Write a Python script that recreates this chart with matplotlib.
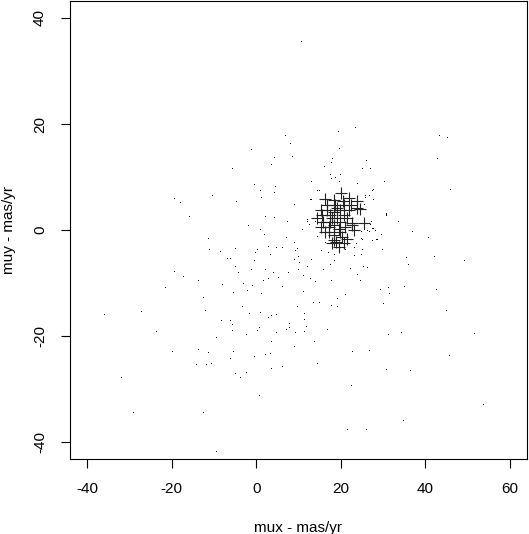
import matplotlib
matplotlib.use("Agg")
import matplotlib.pyplot as plt

plt.rcParams['font.family'] = ['Liberation Sans', 'DejaVu Sans']
plt.rcParams['axes.unicode_minus'] = False

# field stars: proper motions (mas/yr)
field_x = [6.7, 7.9, -1.2, 4.1, 8.4, 3.4, -5.8, -0.4, 4.4, 1.0, 4.1, -10.4, 1.2, -19.4, -4.7, -18.0, 8.9, -15.8,
           2.0, 4.1, 7.2, -2.0, 1.0,
           10.5, 23.4, 19.3, 43.1, 45.0, 19.6, 42.8, 17.9, 26.0, 17.7, 16.0, 25.0, 26.9, 17.4, 19.8, 18.6, 17.7,
           12.9, 19.6, 30.2, 23.8, 45.9, 14.3, 14.8, 27.6, 25.7, 26.7, 12.9, 27.6, 30.7, 30.7, 33.6, 12.0, 13.9,
           10.8, 27.2, 26.9, 25.4, 27.6,
           -11.5, 1.8, 7.0, -11.1, -8.5, -4.9, 0.1, 2.7, 4.8, 6.0, 8.9, 9.6, 9.1, -0.2, 3.2, 9.8, -7.0, -6.1, 8.9,
           -0.4, 10.1, -5.1, 2.2, 9.8, -19.4, -4.4, -1.3, 3.9, 7.5, -17.2, 2.9, 5.1, -13.7, 1.5, -8.0, -3.0, -0.9,
           6.2, -21.6, -2.1, -5.4, 1.2, -12.5, -3.3, 9.6, -27.3, -12.0, -36.0, -1.6, 1.0, 2.9, 3.4, 4.6, -8.2,
           -6.1, -5.6, 7.7, 7.7, 7.0, -5.6, 0.6, 0.1, -23.7, 9.1, 4.8, -2.5, -9.4, 3.4, 8.9, -13.7, -19.9, -11.3,
           -5.4, 3.2, 2.0, -0.6, -6.3, -14.2, -11.8, -10.6, 3.4, 6.0, -5.1, -2.3, -3.8, -32.0, 0.6, -29.1, -12.5,
           -9.6,
           36.9, 40.7, 26.2, 28.1, 27.4, 28.3, 24.8, 14.3, 23.6, 25.0, 15.3, 16.9, 18.3, 16.2, 21.1, 23.0, 25.0,
           23.0, 24.7, 29.7, 35.4, 42.1, 49.2, 35.9, 12.9, 18.3, 17.4, 12.1, 15.7, 22.1, 25.2, 26.2, 11.0, 12.7,
           13.8, 17.7, 23.8, 24.5, 11.0, 29.3, 31.2, 31.4, 35.0, 42.4, 21.0, 19.1, 13.4, 14.8, 17.7, 19.1, 30.0,
           44.9, 11.3, 11.3, 11.7, 11.4, 16.7, 31.2, 34.3, 51.4, 13.6, 22.7, 26.7, 45.6, 14.3, 30.7, 36.4, 22.4,
           53.5, 34.7, 21.4, 25.9,
           14.4, 27.4, 12.8, 25.8, 25.4, 30.6, 12.0, 12.4, 27.4, 26.6, 14.4, 24.7, 28.6, 29.4]
field_y = [17.8, 16.2, 15.1, 13.6, 13.8, 12.3, 11.5, 8.5, 8.1, 7.3, 7.0, 6.4, 6.0, 5.8, 5.4, 5.1, 4.7, 2.4,
           2.4, 2.2, 1.6, 0.7, 0.1,
           35.4, 19.3, 18.5, 17.8, 17.4, 15.3, 13.4, 13.4, 13.0, 12.6, 11.9, 11.5, 11.5, 10.4, 10.4, 9.8, 9.6,
           9.0, 9.0, 9.0, 8.7, 7.5, 7.3, 7.3, 7.5, 6.4, 6.4, 5.6, 5.6, 3.0, 2.6, 1.5, 1.6, 1.6,
           0.1, 1.6, 0.9, 0.1, 0.3,
           -1.6, -1.0, -1.4, -3.8, -4.2, -3.5, -3.8, -3.1, -3.3, -3.3, -2.5, -3.5, -4.0, -4.4, -4.6, -5.0, -5.4,
           -5.4, -5.7, -5.9, -6.1, -6.9, -7.5, -7.5, -7.8, -8.0, -7.6, -8.0, -8.0, -8.8, -9.2, -9.0, -9.5, -9.5,
           -10.3, -10.1, -10.5, -10.7, -10.9, -11.4, -11.8, -12.0, -12.8, -14.5, -14.5, -15.4, -15.2, -16.0,
           -15.8, -15.6, -16.5, -16.2, -16.0, -17.1, -17.1, -17.9, -17.7, -18.4, -18.8, -19.0, -18.4, -19.0,
           -19.2, -19.4, -19.4, -19.8, -20.3, -21.1, -22.0, -22.6, -23.0, -23.2, -23.0, -23.4, -23.6, -23.9,
           -24.3, -25.5, -25.5, -25.3, -26.2, -25.8, -27.2, -27.0, -27.9, -27.9, -31.3, -34.4, -34.4, -41.8,
           -0.4, -1.4, -0.2, -0.1, -2.0, -1.8, -0.4, -1.2, -2.7, -1.8, -4.0, -4.4, -4.6, -2.5, -3.8, -3.3, -3.8,
           -4.8, -4.6, -3.8, -5.2, -5.0, -5.9, -6.5, -5.7, -5.9, -6.5, -6.9, -7.5, -7.3, -6.9, -7.1, -8.6, -9.2,
           -9.7, -9.5, -8.4, -9.5, -11.6, -11.2, -10.9, -12.0, -10.7, -11.2, -12.2, -12.9, -13.7, -13.7, -14.3,
           -14.5, -13.9, -15.2, -15.8, -16.9, -18.3, -19.2, -18.8, -19.8, -19.4, -19.6, -21.1, -23.0, -22.8,
           -23.8, -25.3, -26.4, -26.6, -29.4, -32.9, -35.9, -37.6, -37.6,
           7.4, 7.4, 5.7, 6.0, 4.7, 2.8, 1.9, 0.9, 0.3, -0.3, -1.3, -1.6, -1.9, -0.9]

# cluster members
memb_x = [16.3, 20.1, 21.9, 23.9, 24.5, 18.3, 20.7, 18.7, 22.3, 15.2, 16.7, 18.3, 19.9, 20.7, 19.1, 14.4,
          15.9, 17.5, 15.2, 17.1, 18.3, 21.5, 22.7, 25.4, 23.1, 18.3, 20.3, 18.3, 20.7, 19.5, 17.9, 19.5,
          16.3, 17.5, 19.9, 19.1, 21.1, 17.9, 15.6, 21.9, 19.9, 17.1, 21.5, 23.9, 22.7, 16.8, 20.5, 18.9]
memb_y = [5.9, 7.0, 6.0, 5.5, 4.0, 5.7, 4.7, 4.7, 4.7, 3.8, 3.8, 3.5, 3.8, 2.8, 2.2, 2.2,
          1.6, 1.6, 0.6, 0.6, 0.9, 2.2, 1.3, 1.3, 0.0, -0.9, -1.3, -1.9, -2.5, -3.2, -2.5, 0.3,
          -0.3, 2.8, 1.6, 4.1, 0.6, 2.2, 2.8, 3.8, -0.3, -0.3, -1.6, 4.1, 0.9, 4.8, 5.5, -2.2]

fig = plt.figure(figsize=(5.29, 5.34), dpi=100)
ax = fig.add_axes([70 / 529, 1 - 459.3 / 534, 457 / 529, 458.3 / 534])

ax.plot(field_x, field_y, linestyle='none', marker=',', color='black')
ax.plot(memb_x, memb_y, linestyle='none', marker='+', color='#222222', markersize=8, markeredgewidth=0.8)

ax.set_xlim(-44, 64)
ax.set_ylim(-43.2, 43.2)
ax.set_xticks([-40, -20, 0, 20, 40, 60])
ax.set_yticks([-40, -20, 0, 20, 40])
ax.tick_params(direction='out', length=6.5, width=0.8, labelsize=11, pad=10)
for lab in ax.get_yticklabels():
    lab.set_rotation(90)
    lab.set_va('center')
for s in ax.spines.values():
    s.set_linewidth(0.8)

ax.set_xlabel('mux - mas/yr', fontsize=11, labelpad=18)
ax.set_ylabel('muy - mas/yr', fontsize=11, labelpad=12)

fig.savefig('out.png', dpi=100)
